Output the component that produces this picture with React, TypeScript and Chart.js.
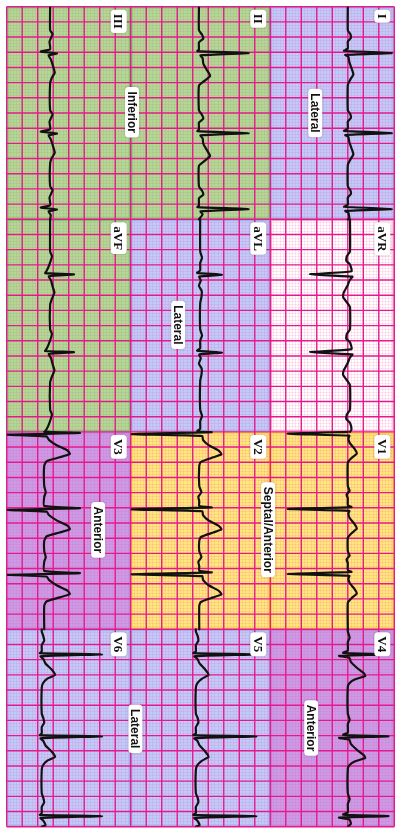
import React, { useEffect, useRef } from 'react';
import { Chart, registerables } from 'chart.js';
Chart.register(...registerables);

// ---- Layout of the 12-lead sheet (time in s, amplitude in mV) ----
const LEADS = ['I', 'II', 'III', 'aVR', 'aVL', 'aVF', 'V1', 'V2', 'V3', 'V4', 'V5', 'V6'];
const LEAD_ROW = [0, 0, 0, 1, 1, 1, 2, 2, 2, 3, 3, 3];
const LEAD_COL = [2, 1, 0, 2, 1, 0, 2, 1, 0, 2, 1, 0];
const ROW_START = [0, 2.8, 5.6, 8.2];
const ROW_END = [2.8, 5.6, 8.2, 10.8];
const COL_START = [0, 4, 8.5];
const COL_END = [4, 8.5, 12.5];

// R-peak times (s) per row
const BEATS_ROW1 = [0.61, 1.665, 2.665];
const BEATS_ROW2 = [3.525, 4.55, 5.61];
const BEATS_ROW3 = [5.625, 6.615, 7.47];
const BEATS_ROW4 = [8.53, 9.61, 10.66];
const ROW_BEATS = [BEATS_ROW1, BEATS_ROW2, BEATS_ROW3, BEATS_ROW4];

// isoelectric baseline of each lead (mV units on the sheet)
const BASELINES = [11.0, 6.2, 1.4, 11.07, 6.24, 1.4, 11.0, 6.21, 1.21, 11.0, 6.1, 1.13];

// beat shapes: [time from R (s), amplitude (mV)]
const WAVE_I = [[-0.3, 0], [-0.25, 0.08], [-0.2, 0.1], [-0.15, 0], [-0.06, 0], [-0.03, -0.12], [0, 1.42], [0.025, -0.08], [0.05, 0.02], [0.12, 0.05], [0.2, 0.12], [0.28, 0.18], [0.35, 0.08], [0.42, 0]];
const WAVE_II = [[-0.3, 0], [-0.24, 0.1], [-0.19, 0.14], [-0.14, 0], [-0.05, 0], [-0.025, -0.05], [0, 1.6], [0.03, 0.05], [0.07, 0.12], [0.14, 0.14], [0.22, 0.25], [0.3, 0.36], [0.36, 0.2], [0.43, 0]];
const WAVE_III = [[-0.3, 0], [-0.25, 0.08], [-0.2, 0.03], [-0.15, -0.02], [-0.05, 0], [-0.02, -0.3], [0.005, 0.22], [0.03, -0.05], [0.08, 0.02], [0.18, 0.1], [0.26, 0.15], [0.33, 0.05], [0.4, 0]];
const WAVE_AVR = [[-0.3, 0], [-0.24, -0.1], [-0.18, -0.12], [-0.13, 0], [-0.04, 0.05], [0, -1.29], [0.03, 0.08], [0.07, 0], [0.15, -0.08], [0.24, -0.2], [0.3, -0.22], [0.37, -0.1], [0.43, 0]];
const WAVE_AVL = [[-0.3, 0], [-0.22, 0.06], [-0.15, 0], [-0.05, 0], [-0.02, -0.1], [0.005, 0.7], [0.03, -0.03], [0.08, 0.02], [0.15, -0.04], [0.22, 0.05], [0.3, 0.04], [0.38, 0]];
const WAVE_AVF = [[-0.3, 0], [-0.24, 0.06], [-0.18, 0.02], [-0.1, -0.05], [-0.04, -0.12], [-0.015, -0.16], [0, 0.77], [0.025, -0.04], [0.08, 0.03], [0.16, 0.08], [0.24, 0.14], [0.32, 0.06], [0.4, 0]];
const WAVE_V1 = [[-0.3, 0], [-0.24, 0.06], [-0.19, -0.04], [-0.14, 0], [-0.05, 0], [-0.025, 0.12], [0, -1.94], [0.025, 0.05], [0.06, 0.02], [0.12, 0.06], [0.2, 0.22], [0.26, 0.29], [0.32, 0.12], [0.38, 0]];
const WAVE_V2 = [[-0.3, 0], [-0.22, 0.07], [-0.16, -0.03], [-0.1, 0], [-0.04, 0], [-0.02, 0.4], [0.005, -2.18], [0.03, 0.1], [0.08, 0.12], [0.15, 0.3], [0.22, 0.62], [0.27, 0.72], [0.31, 0.45], [0.37, 0.05], [0.42, 0]];
const WAVE_V3 = [[-0.3, 0], [-0.22, 0.05], [-0.16, 0], [-0.04, 0], [-0.01, 1.15], [0.012, -1.19], [0.035, 0.08], [0.08, 0.15], [0.15, 0.4], [0.22, 0.75], [0.265, 0.83], [0.31, 0.5], [0.36, 0.08], [0.42, 0]];
const WAVE_V4 = [[-0.3, 0], [-0.22, 0.06], [-0.16, 0], [-0.05, 0], [-0.02, -0.15], [0, 1.31], [0.02, -0.28], [0.045, 0.05], [0.1, 0.1], [0.18, 0.3], [0.25, 0.52], [0.285, 0.56], [0.33, 0.22], [0.38, 0.05], [0.43, 0]];
const WAVE_V5 = [[-0.3, 0], [-0.24, 0.06], [-0.18, 0.08], [-0.12, 0], [-0.04, 0], [-0.015, -0.08], [0, 1.95], [0.025, -0.05], [0.06, 0.05], [0.12, 0.12], [0.2, 0.3], [0.27, 0.41], [0.32, 0.2], [0.38, 0.05], [0.44, 0]];
const WAVE_V6 = [[-0.3, 0], [-0.24, 0.05], [-0.18, 0.08], [-0.12, 0], [-0.04, 0], [-0.015, -0.06], [0, 1.94], [0.025, -0.04], [0.06, 0.05], [0.12, 0.12], [0.2, 0.32], [0.27, 0.43], [0.32, 0.18], [0.38, 0.04], [0.44, 0]];
const WAVES = [WAVE_I, WAVE_II, WAVE_III, WAVE_AVR, WAVE_AVL, WAVE_AVF, WAVE_V1, WAVE_V2, WAVE_V3, WAVE_V4, WAVE_V5, WAVE_V6];

// region labels: text, sheet x (mV units), time (s)
const REGION_TEXT = ['Lateral', 'Inferior', 'Lateral', 'Septal/Anterior', 'Anterior', 'Lateral', 'Anterior'];
const REGION_X = [9.95, 4.04, 5.53, 8.43, 2.95, 4.15, 9.82];
const REGION_T = [1.4, 1.39, 4.19, 6.89, 6.89, 9.51, 9.5];

// ---- styles ----
const PANEL_FILL: Record<string, string> = {
  I: '#bfcbfa', II: '#acdc90', III: '#acdc90', aVR: '#ffffff', aVL: '#bfcbfa', aVF: '#acdc90',
  V1: '#ffe87a', V2: '#ffe87a', V3: '#c99ce8', V4: '#c99ce8', V5: '#bfcbfa', V6: '#bfcbfa',
};
const PANEL_EDGE: Record<string, string> = {
  I: '#9fb1ec', II: '#7cc46c', III: '#7cc46c', aVR: '#f4a0c8', aVL: '#9fb1ec', aVF: '#7cc46c',
  V1: '#f7cf3a', V2: '#f7cf3a', V3: '#bf86d6', V4: '#bf86d6', V5: '#9fb1ec', V6: '#9fb1ec',
};

function buildTrace(k: number) {
  const row = LEAD_ROW[k];
  const base = BASELINES[k];
  const pts: { x: number; y: number }[] = [{ x: base, y: ROW_START[row] }];
  ROW_BEATS[row].forEach((r) => {
    WAVES[k].forEach(([dt, mv]) => {
      const t = r + dt;
      if (t > ROW_START[row] && t < ROW_END[row]) pts.push({ x: base + mv, y: t });
    });
  });
  pts.push({ x: base, y: ROW_END[row] });
  pts.sort((a, b) => a.y - b.y);
  return pts;
}

function roundRect(ctx: CanvasRenderingContext2D, x: number, y: number, w: number, h: number, r: number) {
  ctx.beginPath();
  ctx.moveTo(x + r, y);
  ctx.lineTo(x + w - r, y);
  ctx.quadraticCurveTo(x + w, y, x + w, y + r);
  ctx.lineTo(x + w, y + h - r);
  ctx.quadraticCurveTo(x + w, y + h, x + w - r, y + h);
  ctx.lineTo(x + r, y + h);
  ctx.quadraticCurveTo(x, y + h, x, y + h - r);
  ctx.lineTo(x, y + r);
  ctx.quadraticCurveTo(x, y, x + r, y);
  ctx.closePath();
}

const paperPlugin = {
  id: 'ecgPaper',
  beforeDatasetsDraw(chart: any) {
    const { ctx } = chart;
    const xs = chart.scales.x;
    const ys = chart.scales.y;
    ctx.save();
    ctx.fillStyle = '#ffffff';
    ctx.fillRect(0, 0, chart.width, chart.height);
    const panels = LEADS.map((n, k) => {
      const r = LEAD_ROW[k];
      const c = LEAD_COL[k];
      return {
        n,
        x0: xs.getPixelForValue(COL_START[c]),
        x1: xs.getPixelForValue(COL_END[c]),
        y0: ys.getPixelForValue(ROW_START[r]),
        y1: ys.getPixelForValue(ROW_END[r]),
      };
    });
    panels.forEach((p) => {
      ctx.fillStyle = PANEL_FILL[p.n];
      ctx.fillRect(p.x0, p.y0, p.x1 - p.x0, p.y1 - p.y0);
    });
    const X0 = xs.getPixelForValue(0);
    const X1 = xs.getPixelForValue(12.5);
    const Y0 = ys.getPixelForValue(0);
    const Y1 = ys.getPixelForValue(10.8);
    // minor grid: 0.1 mV, 0.04 s
    ctx.strokeStyle = 'rgba(240, 90, 165, 0.15)';
    ctx.lineWidth = 1;
    ctx.beginPath();
    for (let i = 0; i <= 125; i++) {
      if (i % 5 === 0) continue;
      const px = Math.round(xs.getPixelForValue(i * 0.1)) + 0.5;
      ctx.moveTo(px, Y0);
      ctx.lineTo(px, Y1);
    }
    for (let j = 0; j <= 270; j++) {
      if (j % 5 === 0) continue;
      const py = Math.round(ys.getPixelForValue(j * 0.04)) + 0.5;
      ctx.moveTo(X0, py);
      ctx.lineTo(X1, py);
    }
    ctx.stroke();
    // panel edges
    ctx.lineWidth = 1.2;
    panels.forEach((p) => {
      ctx.strokeStyle = PANEL_EDGE[p.n];
      ctx.strokeRect(p.x0 + 1.2, p.y0 + 1.2, p.x1 - p.x0 - 2.4, p.y1 - p.y0 - 2.4);
    });
    // major grid: 0.5 mV, 0.2 s
    ctx.strokeStyle = '#e6198c';
    ctx.lineWidth = 1.4;
    ctx.beginPath();
    for (let i = 0; i <= 25; i++) {
      const px = xs.getPixelForValue(i * 0.5);
      ctx.moveTo(px, Y0);
      ctx.lineTo(px, Y1);
    }
    for (let j = 0; j <= 54; j++) {
      const py = ys.getPixelForValue(j * 0.2);
      ctx.moveTo(X0, py);
      ctx.lineTo(X1, py);
    }
    ctx.stroke();
    ctx.restore();
  },
  afterDatasetsDraw(chart: any) {
    const { ctx } = chart;
    const xs = chart.scales.x;
    const ys = chart.scales.y;
    ctx.save();
    const drawBox = (cx: number, cy: number, text: string, font: string, pad: number, h: number) => {
      ctx.save();
      ctx.translate(cx, cy);
      ctx.rotate(Math.PI / 2);
      ctx.font = font;
      const w = ctx.measureText(text).width + pad * 2;
      ctx.shadowColor = 'rgba(0,0,0,0.3)';
      ctx.shadowBlur = 2;
      ctx.fillStyle = '#ffffff';
      roundRect(ctx, -w / 2, -h / 2, w, h, 3.5);
      ctx.fill();
      ctx.shadowColor = 'transparent';
      ctx.fillStyle = '#111111';
      ctx.textAlign = 'center';
      ctx.textBaseline = 'middle';
      ctx.fillText(text, 0, 1);
      ctx.restore();
    };
    // lead names at top-right corner of each panel
    const leadFont = 'bold 13px "Liberation Serif", "Times New Roman", serif';
    LEADS.forEach((n, k) => {
      const r = LEAD_ROW[k];
      const c = LEAD_COL[k];
      const xr = xs.getPixelForValue(COL_END[c]);
      const yt = ys.getPixelForValue(ROW_START[r]);
      ctx.font = leadFont;
      const len = ctx.measureText(n).width + 8;
      drawBox(xr - 12, yt + 3 + len / 2, n, leadFont, 4, 16);
    });
    const regionFont = 'bold 12px "Liberation Sans", Arial, sans-serif';
    REGION_TEXT.forEach((t, i) => {
      drawBox(xs.getPixelForValue(REGION_X[i]), ys.getPixelForValue(REGION_T[i]), t, regionFont, 4.5, 14);
    });
    ctx.restore();
  },
};

export default function App() {
  const ref = useRef<HTMLCanvasElement>(null);
  useEffect(() => {
    document.body.style.margin = '0';
    const datasets = LEADS.map((n, k) => ({
      label: n,
      data: buildTrace(k),
      showLine: true,
      borderColor: '#111111',
      borderWidth: 2.2,
      pointRadius: 0,
      tension: 0.15,
      borderJoinStyle: 'round' as const,
      borderCapStyle: 'round' as const,
    }));
    const chart = new Chart(ref.current as HTMLCanvasElement, {
      type: 'scatter',
      data: { datasets },
      options: {
        animation: false,
        responsive: false,
        devicePixelRatio: 1,
        events: [],
        layout: { padding: { left: 6.7, right: 12.7, top: 6.7, bottom: 4.3 } },
        scales: {
          x: { type: 'linear', min: 0, max: 12.5, display: false },
          y: { type: 'linear', min: 0, max: 10.8, reverse: true, display: false },
        },
        plugins: { legend: { display: false }, tooltip: { enabled: false } },
      },
      plugins: [paperPlugin],
    });
    return () => chart.destroy();
  }, []);
  return (
    <div style={{ width: 407, height: 831 }}>
      <canvas ref={ref} width={407} height={831} style={{ display: 'block' }} />
    </div>
  );
}
